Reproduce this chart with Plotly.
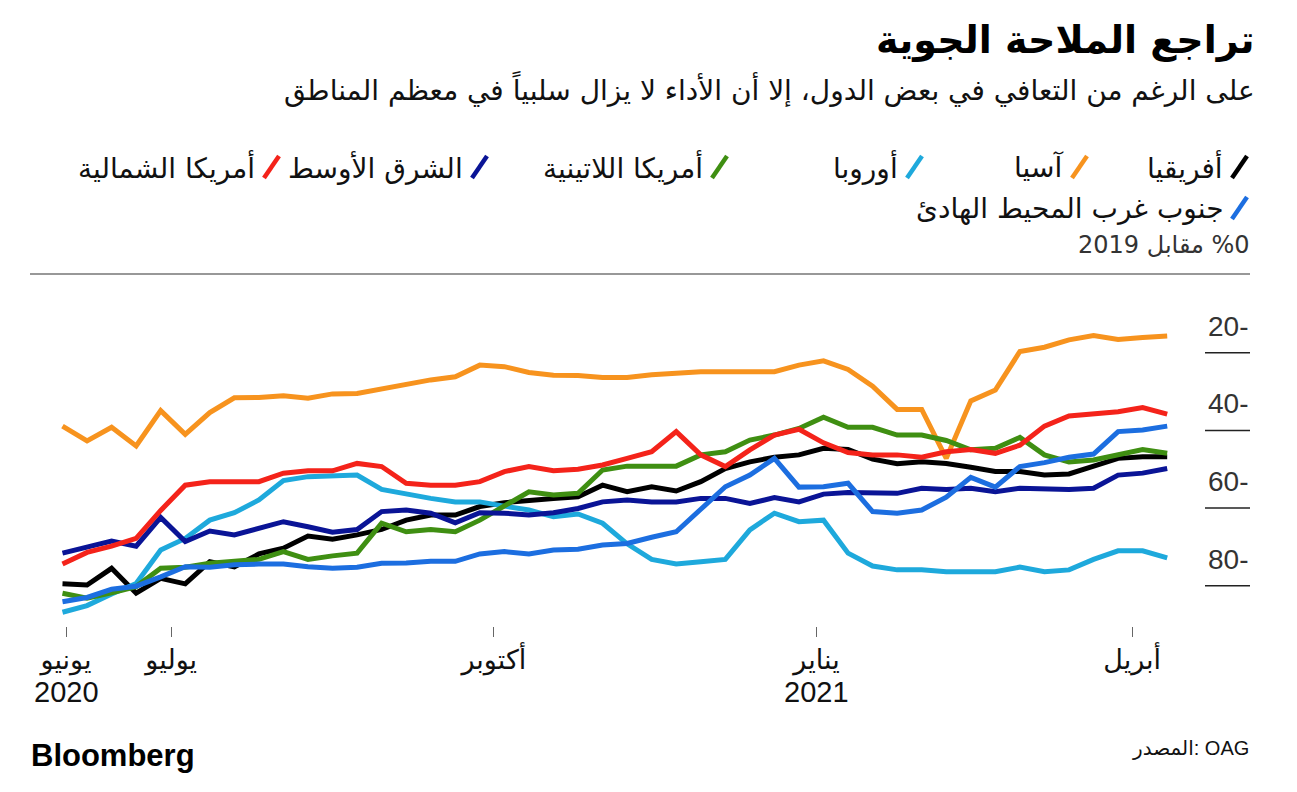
import pandas as pd
import plotly.graph_objects as go
from datetime import datetime, timedelta

# ---------------- data ----------------
dates = pd.date_range("2020-05-31", periods=46, freq="7D")

africa = [-79.5, -79.8, -75.5, -81.9, -78.1, -79.5, -73.8, -75.1, -71.8, -70.3, -67.2, -68.0,
          -66.9, -65.5, -63.1, -61.8, -61.8, -59.6, -58.6, -57.9, -57.5, -57.1, -54.1, -55.8,
          -54.5, -55.6, -53.2, -49.8, -48.1, -46.9, -46.3, -44.6, -44.9, -47.4, -48.6, -48.1,
          -48.5, -49.5, -50.6, -50.6, -51.5, -51.2, -49.3, -47.2, -46.8, -46.8]
asia = [-38.9, -42.7, -39.2, -44.0, -34.9, -41.0, -35.4, -31.6, -31.5, -31.1, -31.7, -30.6,
        -30.5, -29.3, -28.1, -27.0, -26.2, -23.2, -23.6, -25.1, -25.8, -25.9, -26.4, -26.4,
        -25.7, -25.3, -24.9, -24.9, -24.9, -24.9, -23.2, -22.1, -24.3, -28.6, -34.6, -34.6,
        -47.2, -32.4, -29.6, -19.7, -18.6, -16.7, -15.6, -16.6, -16.1, -15.7]
europe = [-86.8, -85.1, -82.1, -79.4, -70.8, -67.8, -63.1, -61.2, -57.9, -52.9, -51.9, -51.7,
          -51.5, -55.2, -56.4, -57.5, -58.4, -58.4, -59.5, -60.5, -62.2, -61.5, -63.9, -69.2,
          -73.2, -74.4, -73.8, -73.2, -65.6, -61.3, -63.5, -63.1, -71.6, -74.9, -75.9, -75.9,
          -76.4, -76.4, -76.4, -75.2, -76.4, -75.9, -73.2, -71.0, -71.0, -72.8]
latam = [-81.9, -83.2, -81.8, -80.2, -75.5, -75.2, -74.2, -73.8, -73.2, -71.2, -73.2, -72.3,
         -71.6, -63.9, -66.1, -65.5, -66.1, -63.1, -59.6, -55.8, -56.6, -56.2, -50.2, -49.2,
         -49.2, -49.2, -46.3, -45.5, -42.5, -41.2, -39.5, -36.6, -39.2, -39.2, -41.2, -41.2,
         -42.6, -45.0, -44.6, -41.8, -46.3, -48.1, -47.6, -46.1, -44.9, -45.9]
mideast = [-71.6, -70.1, -68.5, -69.8, -62.4, -68.6, -65.9, -66.9, -65.2, -63.5, -64.8, -66.2,
           -65.5, -60.9, -60.5, -61.3, -63.8, -61.2, -61.3, -61.8, -61.2, -60.1, -58.4, -57.9,
           -58.4, -58.4, -57.5, -57.5, -58.8, -57.3, -58.4, -56.4, -56.0, -56.2, -56.2, -54.9,
           -55.2, -54.9, -55.8, -54.9, -55.2, -55.2, -54.9, -51.5, -51.0, -49.8]
namerica = [-74.4, -71.4, -69.8, -67.8, -60.6, -54.1, -53.2, -53.2, -53.2, -51.0, -50.4, -50.4,
            -48.5, -49.3, -53.6, -54.1, -54.1, -53.2, -50.6, -49.3, -50.4, -50.0, -48.9, -47.2,
            -45.5, -40.3, -46.3, -49.3, -45.0, -41.2, -39.7, -43.2, -45.7, -46.3, -46.3, -46.9,
            -45.5, -44.9, -45.9, -43.8, -38.9, -36.3, -35.8, -35.2, -34.1, -35.8]
swpacific = [-84.1, -83.0, -80.9, -80.1, -77.7, -75.1, -75.2, -74.6, -74.4, -74.4, -75.1, -75.5,
             -75.2, -74.2, -74.1, -73.7, -73.7, -71.8, -71.2, -71.8, -70.8, -70.6, -69.5, -69.1,
             -67.5, -66.1, -60.3, -54.5, -51.5, -47.2, -54.6, -54.5, -53.6, -60.9, -61.3, -60.5,
             -57.2, -52.1, -54.6, -49.3, -48.3, -46.9, -46.1, -40.3, -39.9, -38.9]

series_names = ["أفريقيا", "آسيا", "أوروبا", "أمريكا اللاتينية", "الشرق الأوسط",
                "أمريكا الشمالية", "جنوب غرب المحيط الهادئ"]
series_values = [africa, asia, europe, latam, mideast, namerica, swpacific]
series_colors = ["#000000", "#f7931e", "#1ea9dc", "#3f8f12", "#0a1496", "#f4231a", "#1c6ee0"]

y_tick_values = [-20, -40, -60, -80]
y_tick_labels = ["20-", "40-", "60-", "80-"]
x_tick_dates = ["2020-06-01", "2020-07-01", "2020-10-01", "2021-01-01", "2021-04-01"]
x_tick_labels = ["يونيو", "يوليو", "أكتوبر", "يناير", "أبريل"]
year_dates = ["2020-06-01", "2021-01-01"]
year_labels = ["2020", "2021"]

title_text = "تراجع الملاحة الجوية"
subtitle_text = "على الرغم من التعافي في بعض الدول، إلا أن الأداء لا يزال سلبياً في معظم المناطق"
unit_text = "2019 مقابل \u200e%0"
source_text = "المصدر: OAG"

# ---------------- geometry ----------------
W, H = 1297, 792
L, R, T, B = 30, 1250, 274, 626
AR = "DejaVu Sans"
LAT = "Liberation Sans"


def px(x):
    return (x - L) / (R - L)


def py(y):
    return (B - y) / (B - T)


# x scale: 2020-06-01 at pixel 66, 3.507 px/day
x0 = datetime(2020, 6, 1)
ppd = 3.507
xr = [x0 + timedelta(days=(L - 66) / ppd), x0 + timedelta(days=(R - 66) / ppd)]
# y scale: -20 at pixel 352.7, 3.885 px/unit
ppu = 3.885
yr = [-20 - (B - 352.7) / ppu, -20 - (T - 352.7) / ppu]

fig = go.Figure()
for name, vals, col in zip(series_names, series_values, series_colors):
    fig.add_trace(go.Scatter(x=dates, y=vals, mode="lines", name=name,
                             line=dict(color=col, width=5), showlegend=False,
                             hoverinfo="skip"))

fig.update_layout(
    width=W, height=H,
    margin=dict(l=L, r=W - R, t=T, b=H - B, pad=0),
    paper_bgcolor="white", plot_bgcolor="white",
    xaxis=dict(type="date", range=xr, showgrid=False, zeroline=False, showline=False,
               tickvals=x_tick_dates, ticktext=x_tick_labels, ticks="outside",
               ticklen=10, tickcolor="#666", tickwidth=1,
               tickfont=dict(family=LAT + ", " + AR, size=27, color="#111")),
    yaxis=dict(range=yr, showgrid=False, zeroline=False, showline=False,
               showticklabels=False, ticks=""),
)

shapes = []
annotations = []
# top rule
shapes.append(dict(type="line", xref="paper", yref="paper", x0=0, x1=1, y0=1, y1=1,
                   line=dict(color="#333", width=1.2)))
# y gridline stubs + labels
for v, lab in zip(y_tick_values, y_tick_labels):
    shapes.append(dict(type="line", xref="paper", yref="y", x0=px(1205), x1=1, y0=v, y1=v,
                       line=dict(color="#222", width=1.5)))
    annotations.append(dict(xref="paper", yref="y", x=1, y=v, xanchor="right", yanchor="bottom",
                            yshift=9, text=lab, showarrow=False,
                            font=dict(family=LAT, size=28, color="#333")))

# year labels below the month ticks
for d, lab in zip(year_dates, year_labels):
    annotations.append(dict(xref="x", yref="paper", x=d, y=py(692), xanchor="center",
                            yanchor="middle", text=lab, showarrow=False,
                            font=dict(family=LAT, size=29, color="#111")))

# title / subtitle / unit
annotations.append(dict(xref="paper", yref="paper", x=px(1257), y=py(40), xanchor="right",
                        yanchor="middle", text="<b>" + title_text + "</b>", showarrow=False,
                        font=dict(family=AR, size=38, color="#000")))
annotations.append(dict(xref="paper", yref="paper", x=px(1257), y=py(88), xanchor="right",
                        yanchor="middle", text=subtitle_text, showarrow=False,
                        font=dict(family=AR, size=28, color="#111")))
annotations.append(dict(xref="paper", yref="paper", x=px(1252), y=py(245), xanchor="right",
                        yanchor="middle", text=unit_text, showarrow=False,
                        font=dict(family=AR, size=24, color="#333")))

# legend (RTL, symbol on the right of each label)
legend_pos = [(1250, 167), (1090, 167), (925, 167), (730, 167), (490, 167), (282, 167),
              (1250, 208)]
for (sx, sy), name, col in zip(legend_pos, series_names, series_colors):
    shapes.append(dict(type="line", xref="paper", yref="paper",
                       x0=px(sx - 18), y0=py(sy + 11), x1=px(sx - 3), y1=py(sy - 11),
                       line=dict(color=col, width=4.5)))
    annotations.append(dict(xref="paper", yref="paper", x=px(sx - 25), y=py(sy),
                            xanchor="right", yanchor="middle", text=name, showarrow=False,
                            font=dict(family=AR, size=28, color="#111")))

# footer
annotations.append(dict(xref="paper", yref="paper", x=px(29), y=py(755), xanchor="left",
                        yanchor="middle", text="<b>Bloomberg</b>", showarrow=False,
                        font=dict(family=LAT, size=31, color="#000")))
annotations.append(dict(xref="paper", yref="paper", x=px(1251), y=py(748), xanchor="right",
                        yanchor="middle", text=source_text, showarrow=False,
                        font=dict(family=LAT + ", " + AR, size=20, color="#111")))

fig.update_layout(shapes=shapes, annotations=annotations)

fig.write_html("out.html", config={"displayModeBar": False},
               post_script="document.body.style.margin='0';document.body.style.overflow='hidden';")
